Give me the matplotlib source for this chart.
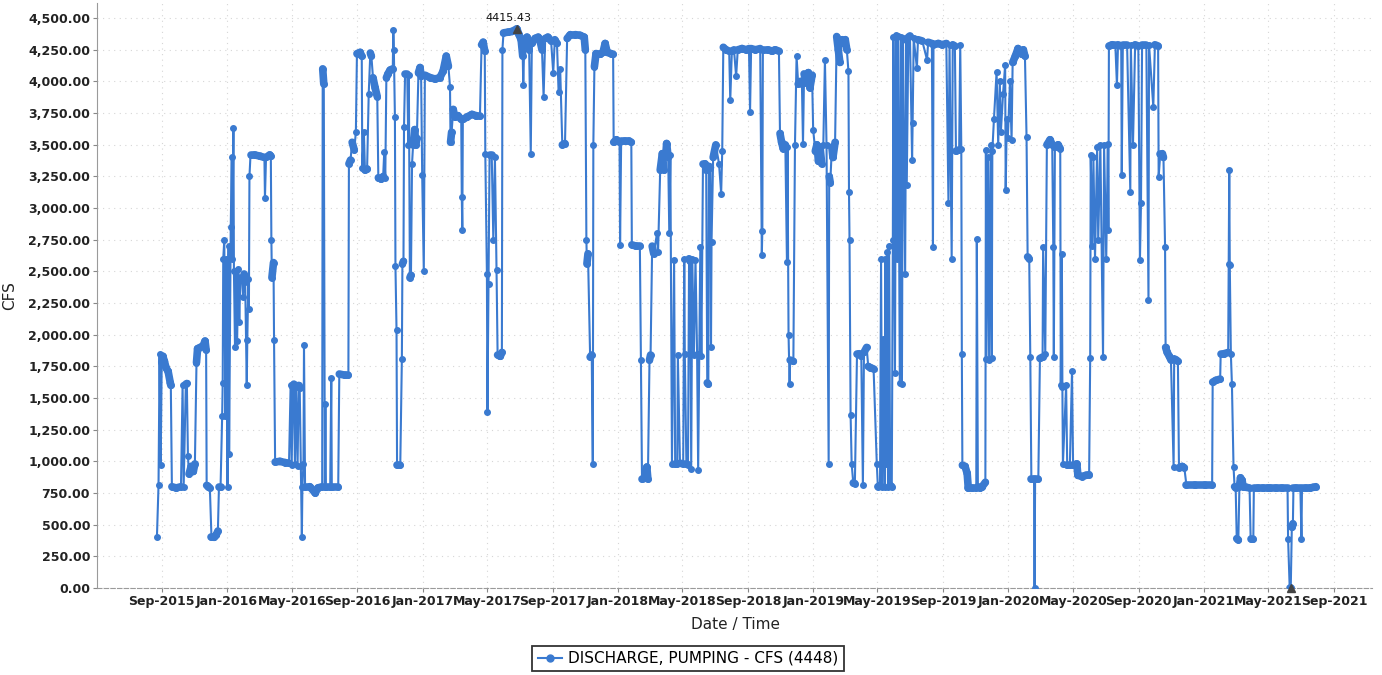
import numpy as np
import pandas as pd
import matplotlib
matplotlib.use('Agg')
import matplotlib.pyplot as plt
import matplotlib.dates as mdates
from matplotlib.collections import LineCollection
from matplotlib.lines import Line2D

# ---------------- data ----------------
start_date = '2015-09-01'          # obs_day counts days from this date

obs_day = [
    -9, -6, -4, -2, 0, 2, 5, 8, 12, 16, 17, 19, 27, 36, 39, 41, 45, 47, 49, 51, 55, 59, 62, 65, 67, 72, 77, 81, 83, 84,
    87, 90, 93, 98, 102, 105, 107, 110, 113, 114, 115, 117, 119, 121, 123, 125, 126, 129, 131, 132, 134, 135, 137, 139,
    141, 143, 145, 147, 150, 152, 154, 156, 159, 160, 162, 163, 164, 166, 174, 184, 192, 193, 195, 202, 204, 205, 206,
    209, 210, 212, 221, 231, 238, 241, 243, 245, 247, 249, 251, 254, 256, 258, 260, 262, 263, 265, 266, 268, 277, 287,
    292, 300, 301, 303, 305, 306, 307, 315, 317, 318, 330, 332, 343, 349, 350, 353, 356, 360, 363, 365, 371, 374, 375,
    378, 380, 384, 387, 390, 392, 395, 399, 403, 405, 410, 414, 416, 418, 420, 423, 427, 432, 433, 434, 436, 437, 439,
    440, 446, 449, 450, 452, 453, 455, 459, 461, 462, 464, 466, 468, 470, 473, 475, 477, 480, 483, 485, 487, 490, 492,
    502, 511, 520, 526, 532, 536, 539, 540, 542, 545, 548, 554, 560, 561, 562, 563, 571, 580, 588, 595, 598, 601, 604,
    605, 608, 609, 611, 613, 617, 620, 623, 626, 628, 633, 636, 637, 639, 648, 655, 664, 668, 672, 675, 676, 678, 683,
    687, 690, 692, 698, 704, 707, 711, 714, 717, 722, 728, 732, 735, 739, 742, 745, 749, 754, 758, 764, 773, 782, 790,
    792, 794, 795, 797, 801, 804, 806, 807, 809, 812, 820, 825, 829, 833, 840, 844, 845, 850, 856, 857, 859, 866, 874,
    878, 879, 887, 894, 896, 898, 902, 907, 909, 912, 914, 917, 920, 926, 928, 932, 936, 939, 943, 944, 947, 949, 951,
    954, 958, 960, 964, 965, 969, 975, 977, 978, 981, 984, 986, 988, 990, 992, 995, 998, 1001, 1003, 1005, 1007, 1009,
    1012, 1016, 1018, 1020, 1022, 1023, 1026, 1027, 1028, 1031, 1036, 1042, 1046, 1048, 1050, 1055, 1061, 1063, 1066,
    1070, 1074, 1077, 1085, 1093, 1098, 1100, 1102, 1110, 1119, 1122, 1123, 1124, 1134, 1141, 1147, 1154, 1156, 1159,
    1162, 1166, 1169, 1170, 1172, 1174, 1175, 1181, 1184, 1187, 1190, 1194, 1197, 1199, 1201, 1205, 1209, 1212, 1216,
    1218, 1222, 1225, 1228, 1231, 1234, 1237, 1240, 1243, 1247, 1248, 1250, 1253, 1255, 1259, 1262, 1265, 1268, 1272,
    1276, 1278, 1281, 1284, 1285, 1286, 1288, 1290, 1293, 1296, 1300, 1304, 1308, 1311, 1313, 1318, 1321, 1325, 1331,
    1337, 1339, 1343, 1345, 1347, 1349, 1352, 1353, 1355, 1356, 1358, 1360, 1362, 1365, 1367, 1368, 1371, 1373, 1375,
    1377, 1380, 1382, 1384, 1386, 1390, 1392, 1393, 1396, 1399, 1403, 1404, 1406, 1412, 1414, 1422, 1431, 1433, 1440,
    1442, 1443, 1452, 1459, 1467, 1471, 1473, 1477, 1479, 1483, 1485, 1491, 1493, 1495, 1496, 1497, 1502, 1506, 1508,
    1515, 1523, 1524, 1526, 1530, 1534, 1540, 1541, 1542, 1545, 1547, 1550, 1552, 1553, 1556, 1561, 1564, 1567, 1569,
    1573, 1577, 1578, 1580, 1582, 1586, 1589, 1591, 1596, 1601, 1607, 1611, 1614, 1617, 1619, 1622, 1624, 1626, 1631,
    1632, 1633, 1639, 1642, 1647, 1648, 1652, 1655, 1661, 1665, 1667, 1668, 1670, 1676, 1680, 1681, 1683, 1684, 1685,
    1691, 1693, 1698, 1702, 1704, 1711, 1713, 1721, 1728, 1734, 1736, 1737, 1740, 1742, 1745, 1749, 1751, 1755, 1760,
    1762, 1766, 1769, 1770, 1771, 1777, 1783, 1786, 1788, 1794, 1795, 1797, 1805, 1811, 1812, 1816, 1820, 1826, 1829,
    1831, 1833, 1841, 1845, 1846, 1854, 1857, 1863, 1864, 1867, 1871, 1873, 1876, 1877, 1880, 1884, 1887, 1892, 1893,
    1897, 1900, 1902, 1908, 1912, 1916, 1932, 1951, 1964, 1965, 1971, 1979, 1980, 1986, 1994, 1995, 1996, 1997, 1999,
    2001, 2004, 2006, 2008, 2010, 2013, 2015, 2017, 2020, 2022, 2028, 2034, 2036, 2041, 2042, 2050, 2059, 2069, 2072,
    2084, 2095, 2105, 2106, 2109, 2111, 2113, 2115, 2116, 2121, 2129, 2131, 2132, 2140, 2147, 2153, 2158,
]

cfs = [
    400, 810, 1850, 970, 1780, 1830, 1790, 1740, 1710, 1620, 1600, 800, 790, 800, 1600, 800, 1610, 1615, 1040, 900, 960,
    920, 980, 1780, 1890, 1900, 1910, 1950, 1880, 810, 800, 790, 400, 400, 420, 450, 800, 800, 1360, 1620, 2600, 2750,
    1360, 2600, 800, 2700, 1060, 2850, 3400, 2600, 3630, 2500, 1900, 2500, 1950, 2520, 2100, 2450, 2450, 2300, 2480,
    2420, 1600, 1960, 2440, 2200, 3250, 3420, 3420, 3410, 3400, 3080, 3400, 3420, 3410, 2750, 2450, 2570, 1960, 995,
    1000, 990, 985, 1600, 970, 1590, 1610, 980, 1600, 960, 1600, 1580, 960, 400, 800, 980, 1916, 800, 800, 750, 790,
    800, 4100, 3980, 800, 1455, 800, 800, 1655, 800, 800, 1690, 1680, 1680, 3350, 3380, 3520, 3460, 3600, 4220, 4230,
    4200, 3320, 3600, 3300, 3310, 3900, 4225, 4200, 4030, 3950, 3880, 3240, 3230, 3250, 3440, 3240, 4030, 4060, 4090,
    4100, 4410, 4250, 3720, 2540, 2040, 970, 970, 1810, 2560, 2580, 3640, 4060, 4060, 3500, 4050, 2450, 2470, 3350,
    3500, 3620, 3500, 3550, 4070, 4110, 4040, 3260, 2500, 4050, 4030, 4020, 4030, 4080, 4200, 4120, 3960, 3520, 3600,
    3780, 3720, 3730, 3700, 3090, 2830, 3700, 3720, 3740, 3730, 3730, 4290, 4310, 4240, 3430, 2480, 1390, 2400, 3420,
    3420, 2750, 3400, 2510, 1840, 1830, 1860, 4250, 4384, 4390, 4395, 4415.43, 4370, 4330, 4200, 3970, 4330, 4350,
    4250, 3430, 4300, 4340, 4350, 4330, 4250, 3880, 4340, 4350, 4320, 4070, 4330, 4300, 3920, 4100, 3500, 3510, 4340,
    4370, 4370, 4365, 4350, 4250, 2750, 2560, 2640, 1824, 1840, 980, 3500, 4117, 4220, 4215, 4230, 4300, 4230, 4220,
    4215, 3520, 3540, 3520, 2710, 3530, 3530, 3530, 3520, 2710, 2700, 2700, 1800, 860, 865, 955, 860, 1800, 1840, 2700,
    2640, 2800, 2650, 3300, 3430, 3300, 3450, 3510, 3400, 2800, 3420, 980, 2590, 980, 980, 1840, 985, 980, 2600, 1850,
    980, 975, 2600, 2580, 940, 2600, 1840, 2590, 1850, 930, 1850, 2690, 1830, 3350, 3350, 3300, 1620, 1610, 3330, 3320,
    1900, 2730, 3400, 3500, 3350, 3115, 3450, 4270, 4250, 4240, 3850, 4240, 4250, 4040, 4250, 4260, 4250, 4260, 3760,
    4260, 4250, 4260, 2630, 2820, 4250, 4250, 4240, 4250, 4240, 3590, 3520, 3470, 3500, 2575, 3480, 2000, 1610, 1800,
    1790, 3500, 4200, 3980, 4000, 3980, 3510, 4060, 3990, 4070, 3950, 4050, 3620, 3450, 3500, 3370, 3480, 3350, 3500,
    4170, 3500, 980, 3250, 3200, 3480, 3400, 3520, 4355, 4250, 4150, 4330, 4300, 4330, 4250, 4080, 3130, 2750, 1370,
    980, 830, 825, 1850, 1850, 1830, 810, 1860, 1900, 1750, 1740, 1730, 980, 800, 810, 2600, 800, 1970, 800, 2600, 980,
    2650, 800, 2700, 810, 800, 2750, 4350, 1700, 4370, 2600, 4360, 1620, 4350, 1610, 4340, 2480, 4330, 3180, 4350,
    4360, 3380, 3670, 4340, 4105, 4330, 4320, 4170, 4310, 4300, 2690, 4290, 4300, 4290, 4300, 3040, 4290, 2600, 4290,
    4280, 3450, 3460, 4290, 3470, 1850, 970, 960, 905, 790, 790, 790, 2757, 800, 790, 800, 835, 3455, 1810, 3400, 1800,
    3500, 1820, 3450, 3700, 4078, 3500, 4000, 3600, 3900, 4131, 3142, 3700, 3550, 4000, 3540, 4150, 4200, 4260, 4220,
    4250, 4200, 3560, 2615, 2600, 1824, 860, 860, 0, 860, 860, 1813, 1824, 2690, 1850, 3500, 3540, 3500, 2690, 1824,
    3480, 3500, 3470, 1600, 2640, 1590, 980, 1600, 975, 975, 1713, 970, 980, 890, 880, 890, 895, 1813, 3420, 2700,
    3400, 2600, 3480, 2750, 3500, 1824, 3500, 2600, 3510, 2826, 4280, 4290, 4290, 3970, 4290, 4280, 3260, 4290, 4290,
    3130, 4290, 3500, 4290, 4280, 2590, 3040, 4290, 4290, 2272, 4290, 3800, 4290, 4280, 3245, 3430, 3430, 3400, 2693,
    1900, 1860, 1830, 1800, 954, 1810, 1800, 1790, 950, 960, 950, 810, 810, 810, 810, 1626, 1640, 1650, 1850, 1850,
    1860, 2560, 3300, 2550, 1850, 1610, 954, 800, 790, 390, 380, 800, 870, 850, 800, 795, 790, 390, 390, 790, 790, 790,
    790, 790, 790, 790, 790, 390, 0, 0, 480, 508, 790, 790, 790, 390, 790, 790, 790, 795, 800,
]

tick_dates = ['2015-09-01', '2016-01-01', '2016-05-01', '2016-09-01', '2017-01-01', '2017-05-01', '2017-09-01',
              '2018-01-01', '2018-05-01', '2018-09-01', '2019-01-01', '2019-05-01', '2019-09-01', '2020-01-01',
              '2020-05-01', '2020-09-01', '2021-01-01', '2021-05-01', '2021-09-01']
tick_labels = ['Sep-2015', 'Jan-2016', 'May-2016', 'Sep-2016', 'Jan-2017', 'May-2017', 'Sep-2017', 'Jan-2018',
               'May-2018', 'Sep-2018', 'Jan-2019', 'May-2019', 'Sep-2019', 'Jan-2020', 'May-2020', 'Sep-2020',
               'Jan-2021', 'May-2021', 'Sep-2021']
y_ticks = [0, 250, 500, 750, 1000, 1250, 1500, 1750, 2000, 2250, 2500, 2750, 3000, 3250, 3500, 3750, 4000, 4250, 4500]
series_label = 'DISCHARGE, PUMPING - CFS (4448)'
y_title = 'CFS'
x_title = 'Date / Time'

# ---------------- plotting ----------------
LINE = '#3a7ad0'
dates = pd.Timestamp(start_date) + pd.to_timedelta(obs_day, unit='D')
xnum = mdates.date2num(dates.to_pydatetime())
vals = np.asarray(cfs, dtype=float)

fig = plt.figure(figsize=(13.82, 6.75), dpi=100)
ax = fig.add_axes([0.0702, 0.1289, 0.9226, 0.8667])

ax.set_xlim(mdates.date2num(pd.Timestamp('2015-05-03')), mdates.date2num(pd.Timestamp('2021-11-11')))
ax.set_ylim(0, 4620)

ax.grid(True, color='#d6d6d6', linestyle=(0, (1, 4)), linewidth=0.8, zorder=0)

# thick bands where the daily markers pile up on plateaus
segs = []
for i in range(len(vals) - 1):
    if abs(vals[i + 1] - vals[i]) <= 130:
        segs.append([(xnum[i], vals[i]), (xnum[i + 1], vals[i + 1])])
lc = LineCollection(segs, colors=LINE, linewidths=5.5, capstyle='round', zorder=3)
ax.add_collection(lc)

ax.plot(xnum, vals, color=LINE, lw=1.5, marker='o', ms=4, mfc=LINE, mec=LINE, zorder=4)

# max / min markers
imax = int(np.argmax(vals))
imin = int(np.where(vals == vals.min())[0][-1])
ax.plot([xnum[imax]], [vals[imax]], marker='^', color='#444444', ms=6, zorder=5)
ax.plot([xnum[imin]], [vals[imin]], marker='^', color='#444444', ms=6, zorder=5, clip_on=False)
ax.text(xnum[imax] - 58, 4500, f'{vals[imax]:.2f}', fontsize=8, color='#111111', va='center', ha='left')

ax.set_xticks([mdates.date2num(pd.Timestamp(d)) for d in tick_dates])
ax.set_xticklabels(tick_labels, fontsize=9, fontweight='bold', color='#222222')
ax.set_yticks(y_ticks)
ax.set_yticklabels([f'{v:,.2f}' for v in y_ticks], fontsize=9, fontweight='bold', color='#222222')
ax.tick_params(axis='both', length=3, width=0.8, color='#888888', pad=2)

for s in ['top', 'right']:
    ax.spines[s].set_visible(False)
ax.spines['left'].set_color('#9a9a9a')
ax.spines['bottom'].set_color('#9a9a9a')
ax.spines['bottom'].set_linestyle((0, (4, 2)))

ax.set_ylabel(y_title, fontsize=11, color='#222222')
ax.yaxis.set_label_coords(-0.0625, 0.5)
ax.set_xlabel(x_title, fontsize=11, color='#222222')
ax.xaxis.set_label_coords(0.5004, -0.062)
ax.xaxis.label.set_va('center')

handle = Line2D([0], [0], color=LINE, lw=1.5, marker='o', ms=5, mfc=LINE, mec=LINE)
leg = fig.legend([handle], [series_label], loc='center', bbox_to_anchor=(0.498, 0.0245), fontsize=11,
                 frameon=True, fancybox=False, handlelength=1.6, handletextpad=0.4, borderpad=0.35)
leg.get_frame().set_edgecolor('#000000')
leg.get_frame().set_linewidth(1.3)

fig.savefig('out.png', dpi=100)
